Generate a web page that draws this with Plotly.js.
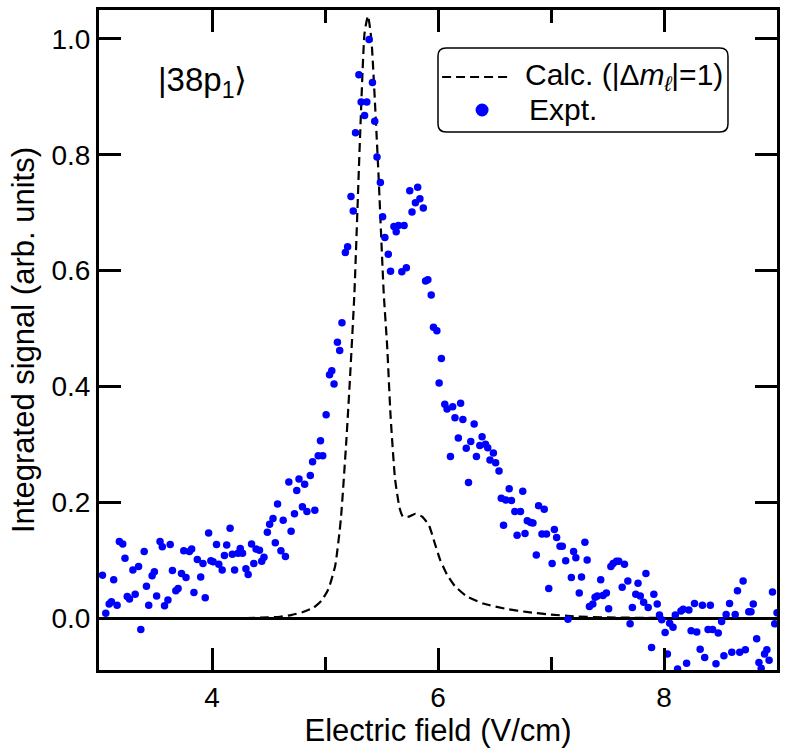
<!DOCTYPE html>
<html>
<head>
<meta charset="utf-8">
<script src="https://cdn.plot.ly/plotly-3.0.1.min.js"></script>
<style>
  html, body { margin: 0; padding: 0; background: #fff; }
  #myDiv { width: 788px; height: 755px; }
</style>
</head>
<body>
<div id="myDiv"></div>
<script>
var exptX = [
  3.03,3.06,3.09,3.11,3.13,3.16,3.18,3.21,3.23,3.25,3.27,3.30,3.32,3.35,3.37,3.40,3.42,3.44,3.47,3.49,
  3.51,3.54,3.56,3.58,3.61,3.63,3.65,3.68,3.70,3.73,3.75,3.77,3.80,3.82,3.84,3.87,3.90,3.92,3.94,3.97,
  3.99,4.01,4.04,4.06,4.09,4.11,4.13,4.16,4.18,4.20,4.23,4.25,4.27,4.30,4.32,4.35,4.37,4.39,4.42,4.44,
  4.46,4.49,4.51,4.54,4.56,4.58,4.61,4.63,4.65,4.68,4.70,4.73,4.75,4.77,4.80,4.82,4.84,4.87,4.89,4.91,
  4.94,4.96,4.98,5.01,5.04,5.06,5.08,5.11,5.13,5.15,5.18,5.20,5.23,5.25,5.27,5.30,5.32,5.35,5.37,5.39,
  5.42,5.44,5.46,5.49,5.51,5.53,5.56,5.58,5.61,5.63,5.65,5.68,5.70,5.72,5.75,5.77,5.80,5.82,5.84,5.87,
  5.89,5.91,5.94,5.96,5.99,6.01,6.03,6.06,6.08,6.11,6.13,6.15,6.18,6.20,6.22,6.25,6.27,6.29,6.32,6.34,
  6.37,6.39,6.42,6.44,6.46,6.49,6.51,6.54,6.56,6.58,6.60,6.63,6.65,6.68,6.70,6.73,6.75,6.77,6.79,6.82,
  6.84,6.87,6.89,6.92,6.94,6.96,6.98,7.01,7.03,7.05,7.08,7.10,7.13,7.15,7.18,7.20,7.22,7.25,7.27,7.30,
  7.32,7.34,7.37,7.39,7.41,7.44,7.46,7.49,7.51,7.53,7.55,7.58,7.60,7.63,7.65,7.68,7.70,7.72,7.75,7.77,
  7.79,7.82,7.84,7.86,7.89,7.91,7.94,7.96,7.98,8.01,8.03,8.05,8.08,8.10,8.12,8.15,8.17,8.20,8.22,8.24,
  8.27,8.29,8.32,8.34,8.36,8.39,8.41,8.43,8.46,8.48,8.51,8.53,8.55,8.58,8.60,8.63,8.65,8.67,8.70,8.72,
  8.75,8.77,8.79,8.82,8.84,8.86,8.89,8.91,8.93,8.96,8.98,9.00
];
var exptY = [
  0.074,0.008,0.024,0.028,0.066,0.022,0.132,0.128,0.103,0.037,0.033,0.083,0.041,0.089,-0.020,0.115,0.055,0.022,0.073,0.080,
  0.038,0.132,0.123,0.021,0.031,0.127,0.082,0.047,0.051,0.077,0.116,0.070,0.115,0.119,0.044,0.101,0.071,0.094,0.035,0.147,
  0.099,0.097,0.127,0.093,0.083,0.108,0.126,0.155,0.110,0.083,0.112,0.120,0.112,0.085,0.075,0.128,0.094,0.119,0.117,0.098,
  0.105,0.148,0.162,0.172,0.130,0.197,0.116,0.169,0.106,0.235,0.150,0.180,0.220,0.240,0.192,0.231,0.184,0.246,0.270,0.186,
  0.280,0.306,0.280,0.351,0.420,0.427,0.404,0.476,0.462,0.510,0.631,0.641,0.728,0.703,0.838,0.938,0.891,0.868,0.891,0.999,
  0.925,0.858,0.796,0.752,0.693,0.657,0.628,0.599,0.676,0.667,0.678,0.598,0.678,0.605,0.738,0.701,0.717,0.744,0.724,0.708,
  0.582,0.584,0.558,0.502,0.496,0.406,0.448,0.369,0.361,0.279,0.365,0.346,0.311,0.371,0.343,0.293,0.234,0.305,0.335,0.279,
  0.298,0.313,0.300,0.294,0.273,0.285,0.268,0.254,0.207,0.160,0.204,0.223,0.203,0.184,0.143,0.184,0.219,0.146,0.168,0.165,
  0.164,0.109,0.194,0.145,0.188,0.145,0.051,0.094,0.153,0.139,0.124,0.124,0.099,-0.002,0.070,0.115,0.104,0.043,0.071,0.131,
  0.100,0.020,0.024,0.036,0.038,0.066,0.039,0.043,0.016,0.089,0.094,0.098,0.098,0.053,0.093,0.064,-0.010,0.018,0.041,0.060,
  0.038,0.027,0.077,0.018,-0.051,0.041,0.024,0.005,-0.003,-0.025,-0.062,-0.009,-0.016,0.005,-0.088,0.012,0.015,-0.078,0.014,-0.022,
  0.025,-0.024,-0.054,0.022,-0.068,-0.020,0.022,-0.020,-0.079,-0.026,-0.006,-0.065,0.006,0.025,-0.059,0.006,0.047,-0.059,0.064,-0.055,
  0.011,0.011,0.024,-0.036,-0.077,-0.087,-0.062,-0.055,-0.073,0.045,-0.010,0.009
];

// calculated curve (|dm_l| = 1)
var calcX = [4.3,4.5,4.6,4.7,4.8,4.9,4.97,5.03,5.09,5.14,5.19,5.22,5.26,5.31,5.35,5.38,5.41,5.47,5.52,5.55,
             5.58,5.62,5.66,5.69,5.74,5.80,5.86,5.92,5.97,6.02,6.08,6.15,6.25,6.40,6.60,6.80,7.00,7.20,7.50,8.0];
var calcY = [0,0.001,0.002,0.005,0.010,0.018,0.030,0.050,0.090,0.170,0.310,0.410,0.560,0.830,1.010,1.040,1.000,0.780,0.560,0.470,
             0.350,0.240,0.190,0.175,0.175,0.180,0.175,0.160,0.130,0.100,0.075,0.055,0.038,0.025,0.016,0.010,0.006,0.003,0.001,0];

var calcName = 'Calc. (|Δ<i>m</i><sub><i>ℓ</i></sub>|=1)';
var exptName = 'Expt.';
var stateLabel = '|38p<sub>1</sub>⟩';

var font = 'Liberation Sans, Arial, Helvetica, sans-serif';

var data = [
  {
    x: calcX, y: calcY, mode: 'lines', name: calcName,
    line: {color: 'black', width: 2.2, dash: '9px,5px', shape: 'spline', smoothing: 0.5}
  },
  {
    x: exptX, y: exptY, mode: 'markers', name: exptName,
    marker: {color: '#0000ff', size: 7.5}
  }
];

var axisCommon = {
  showline: true, linecolor: 'black', linewidth: 3, mirror: 'ticks',
  ticks: 'inside', ticklen: 22, tickwidth: 3, tickcolor: 'black',
  showgrid: false,
  tickfont: {family: font, size: 28, color: 'black'}
};

// legend drawn by hand so the box can have rounded corners
var bx0 = 0.5, bx1 = 0.9277, by0 = 0.8152, by1 = 0.9424, rx = 0.012, ry = 0.012;
var boxPath = 'M ' + (bx0 + rx) + ',' + by1 +
  ' L ' + (bx1 - rx) + ',' + by1 + ' Q ' + bx1 + ',' + by1 + ' ' + bx1 + ',' + (by1 - ry) +
  ' L ' + bx1 + ',' + (by0 + ry) + ' Q ' + bx1 + ',' + by0 + ' ' + (bx1 - rx) + ',' + by0 +
  ' L ' + (bx0 + rx) + ',' + by0 + ' Q ' + bx0 + ',' + by0 + ' ' + bx0 + ',' + (by0 + ry) +
  ' L ' + bx0 + ',' + (by1 - ry) + ' Q ' + bx0 + ',' + by1 + ' ' + (bx0 + rx) + ',' + by1 + ' Z';

var layout = {
  width: 788, height: 755,
  margin: {l: 99, r: 11, t: 10, b: 85},
  paper_bgcolor: 'white', plot_bgcolor: 'white',
  showlegend: false,
  font: {family: font, color: 'black'},
  xaxis: Object.assign({}, axisCommon, {
    range: [3, 9], tick0: 0, dtick: 2, zeroline: false,
    minor: {dtick: 1, ticks: 'inside', ticklen: 13, tickwidth: 3, tickcolor: 'black', showgrid: false},
    title: {text: 'Electric field (V/cm)', font: {family: font, size: 31, color: 'black'}, standoff: 6}
  }),
  yaxis: Object.assign({}, axisCommon, {
    range: [-0.0898, 1.050], tick0: 0, dtick: 0.2, tickformat: '.1f',
    zeroline: true, zerolinecolor: 'black', zerolinewidth: 3,
    title: {text: 'Integrated signal (arb. units)', font: {family: font, size: 31, color: 'black'}, standoff: 8}
  }),
  shapes: [
    {type: 'path', xref: 'paper', yref: 'paper', path: boxPath,
     line: {color: 'black', width: 1.5}, fillcolor: 'white'},
    {type: 'line', xref: 'paper', yref: 'paper', x0: 0.506, x1: 0.603, y0: 0.8985, y1: 0.8985,
     line: {color: 'black', width: 2.2, dash: '9px,5px'}},
    {type: 'circle', xref: 'paper', yref: 'paper', xsizemode: 'pixel', ysizemode: 'pixel',
     xanchor: 0.565, yanchor: 0.8485, x0: -6.5, x1: 6.5, y0: -6.5, y1: 6.5,
     fillcolor: '#0000ff', line: {width: 0}}
  ],
  annotations: [
    {xref: 'paper', yref: 'paper', x: 0.625, y: 0.8985, xanchor: 'left', yanchor: 'middle',
     text: calcName, showarrow: false, font: {family: font, size: 30, color: 'black'}},
    {xref: 'paper', yref: 'paper', x: 0.631, y: 0.8485, xanchor: 'left', yanchor: 'middle',
     text: exptName, showarrow: false, font: {family: font, size: 30, color: 'black'}},
    {xref: 'paper', yref: 'paper', x: 0.153, y: 0.891, xanchor: 'center', yanchor: 'middle',
     text: stateLabel, showarrow: false, font: {family: font, size: 33, color: 'black'}}
  ]
};

Plotly.newPlot('myDiv', data, layout, {displayModeBar: false, staticPlot: true});
</script>
</body>
</html>
